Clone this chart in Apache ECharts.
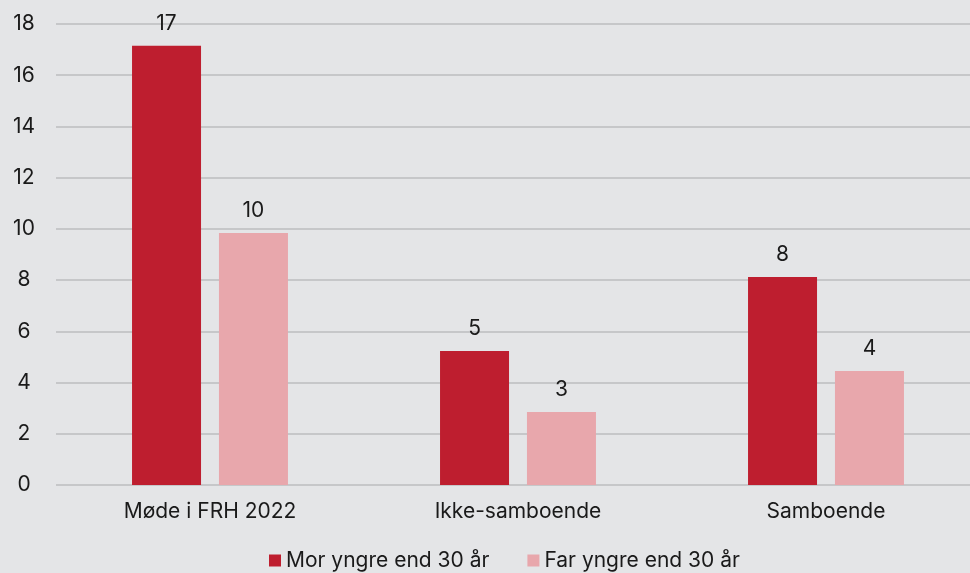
<!DOCTYPE html>
<html><head><meta charset="utf-8">
<script src="https://cdn.jsdelivr.net/npm/echarts@6/dist/echarts.min.js"></script>
<style>html,body{margin:0;padding:0;background:#e4e5e7;}#c{width:970px;height:573px;}</style>
</head><body><div id="c"></div>
<script>
const categories = ["Møde i FRH 2022", "Ikke-samboende", "Samboende"];
const seriesNames = ["Mor yngre end 30 år", "Far yngre end 30 år"];
const morValues = [17.15, 5.23, 8.12];
const farValues = [9.84, 2.85, 4.45];
const yTicks = [0, 2, 4, 6, 8, 10, 12, 14, 16, 18];

const chart = echarts.init(document.getElementById('c'), null, {renderer: 'canvas'});
const font = 'Inter, "Noto Sans", sans-serif';
const fs = 21;
const label = {show: true, position: 'top', distance: 12, color: '#1a1a1a', fontSize: fs, fontFamily: font,
  formatter: p => Math.round(p.value)};
chart.setOption({
  backgroundColor: '#e4e5e7',
  animation: false,
  textStyle: {fontFamily: font},
  grid: {left: 56, width: 924, top: 24, bottom: 88, containLabel: false, outerBoundsMode: 'none'},
  legend: {left: 264, top: 545, itemWidth: 12, itemHeight: 12, itemGap: 38, icon: 'rect',
    textStyle: {fontSize: fs, color: '#1a1a1a', fontFamily: font},
    data: seriesNames},
  xAxis: {type: 'category', data: categories,
    axisLine: {show: false}, axisTick: {show: false},
    axisLabel: {color: '#1a1a1a', fontSize: fs, fontFamily: font, margin: 16}},
  yAxis: {type: 'value', min: yTicks[0], max: yTicks[yTicks.length - 1], interval: 2,
    axisLine: {show: false}, axisTick: {show: false},
    axisLabel: {color: '#1a1a1a', fontSize: fs, fontFamily: font, margin: 32, align: 'center'},
    splitLine: {lineStyle: {color: '#c6c7c9', width: 2}}},
  series: [
    {name: seriesNames[0], type: 'bar', data: morValues, barWidth: 69, barGap: '26%',
      itemStyle: {color: '#be1e2f'}, label: label},
    {name: seriesNames[1], type: 'bar', data: farValues, barWidth: 69,
      itemStyle: {color: '#e8a7ac'}, label: label}
  ]
});
</script></body></html>
